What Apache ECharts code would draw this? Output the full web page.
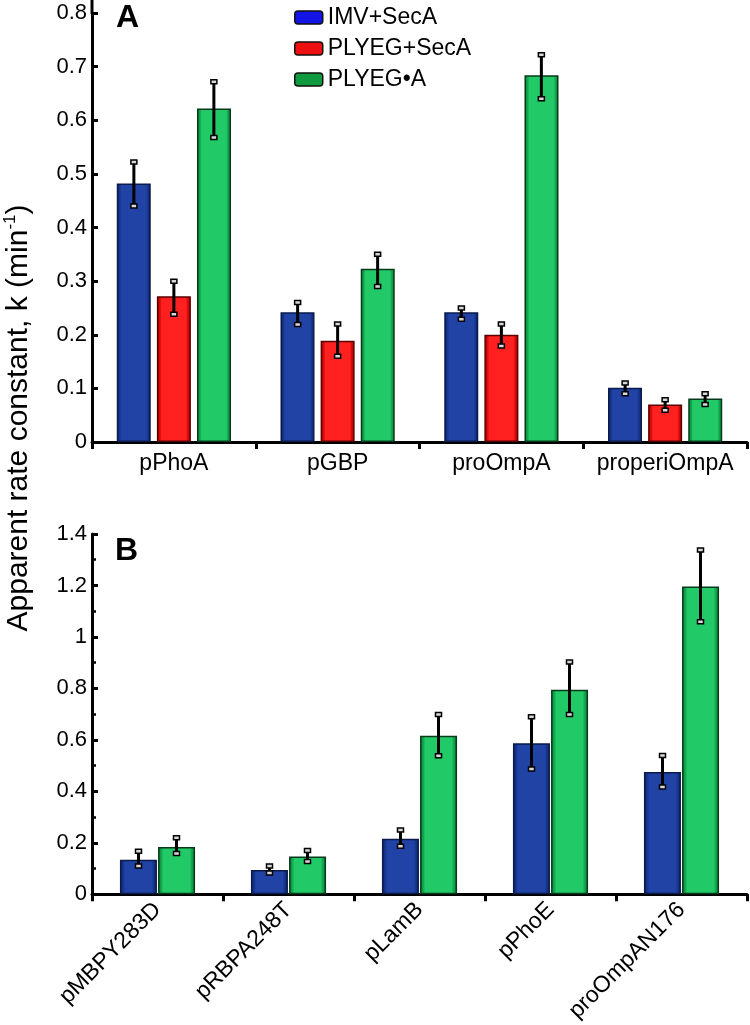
<!DOCTYPE html>
<html>
<head>
<meta charset="utf-8">
<script src="https://cdn.jsdelivr.net/npm/echarts@6/dist/echarts.min.js"></script>
<style>
html,body{margin:0;padding:0;background:#fff;}
#chart{width:750px;height:1025px;}
</style>
</head>
<body>
<div id="chart"></div>
<script>
// ---- Data ----
const seriesNames = ['IMV+SecA', 'PLYEG+SecA', 'PLYEG\u2022A'];

const categoriesA = ['pPhoA', 'pGBP', 'proOmpA', 'properiOmpA'];
const imvA      = [0.482, 0.242, 0.242, 0.101];
const imvALow   = [0.440, 0.219, 0.229, 0.090];
const imvAHigh  = [0.522, 0.260, 0.250, 0.110];
const secA      = [0.272, 0.189, 0.200, 0.070];
const secALow   = [0.238, 0.160, 0.179, 0.059];
const secAHigh  = [0.300, 0.220, 0.220, 0.079];
const plyA      = [0.622, 0.323, 0.684, 0.081];
const plyALow   = [0.568, 0.290, 0.640, 0.070];
const plyAHigh  = [0.672, 0.350, 0.722, 0.090];

const categoriesB = ['pMBPY283D', 'pRBPA248T', 'pLamB', 'pPhoE', 'proOmpAN176'];
const imvB      = [0.134, 0.094, 0.216, 0.587, 0.475];
const imvBLow   = [0.110, 0.083, 0.187, 0.487, 0.417];
const imvBHigh  = [0.167, 0.110, 0.250, 0.690, 0.539];
const plyB      = [0.184, 0.147, 0.616, 0.795, 1.196];
const plyBLow   = [0.158, 0.127, 0.538, 0.699, 1.059];
const plyBHigh  = [0.220, 0.170, 0.699, 0.903, 1.338];

const yTicksA = {min: 0, max: 0.8, interval: 0.1};
const yTicksB = {min: 0, max: 1.4, interval: 0.2};

// ---- Styles ----
const FONT = '"Liberation Sans", Arial, Helvetica, sans-serif';
function grad(edge, band, mid) {
  return new echarts.graphic.LinearGradient(0, 0, 1, 0, [
    {offset: 0, color: edge}, {offset: 0.1, color: band}, {offset: 0.14, color: mid},
    {offset: 0.86, color: mid}, {offset: 0.9, color: band}, {offset: 1, color: edge}
  ]);
}
const fillBlue  = grad('#0d2470', '#18378f', '#2143a6');
const fillRed   = grad('#a80000', '#dd0c0c', '#ff2020');
const fillGreen = grad('#0a8038', '#14aa52', '#22ca67');
const legendColors = ['#1414e6', '#ee1010', '#119a3d'];

function errorSeries(name, cats, low, high, xi, offset) {
  return {
    type: 'custom', name: name, xAxisIndex: xi, yAxisIndex: xi, z: 10,
    silent: true, clip: false,
    data: cats.map((c, i) => [i, low[i], high[i]]),
    encode: {x: 0, y: [1, 2]},
    renderItem: function (params, api) {
      const lo = api.coord([api.value(0), api.value(1)]);
      const hi = api.coord([api.value(0), api.value(2)]);
      const cx = lo[0] + offset;
      const cw = 6, ch = 4;
      return {
        type: 'group',
        children: [
          {type: 'line', shape: {x1: cx, y1: hi[1], x2: cx, y2: lo[1]},
           style: {stroke: '#000', lineWidth: 3}},
          {type: 'rect', shape: {x: cx - cw / 2, y: hi[1] - ch / 2, width: cw, height: ch},
           style: {fill: '#d8d8d8', stroke: '#000', lineWidth: 1.5}},
          {type: 'rect', shape: {x: cx - cw / 2, y: lo[1] - ch / 2, width: cw, height: ch},
           style: {fill: '#d8d8d8', stroke: '#000', lineWidth: 1.5}}
        ]
      };
    }
  };
}

function barSeries(name, data, xi, fill, border, bw, gap) {
  return {
    type: 'bar', name: name, xAxisIndex: xi, yAxisIndex: xi,
    data: data, barWidth: bw, barGap: gap,
    itemStyle: {color: fill, borderColor: border, borderWidth: 1.5}
  };
}

const axisLineStyle = {color: '#000', width: 3};

const option = {
  backgroundColor: '#fff',
  animation: false,
  textStyle: {fontFamily: FONT},
  legend: {
    orient: 'vertical', left: 289, top: 1,
    itemWidth: 28, itemHeight: 13, itemGap: 8,
    textStyle: {fontSize: 23, color: '#000', fontFamily: FONT, lineHeight: 23},
    data: seriesNames.map((n, i) => ({name: n, itemStyle: {color: legendColors[i], borderColor: '#111', borderWidth: 1.5}})),
    selectedMode: false
  },
  grid: [
    {left: 92, right: 3, top: 13, height: 429},
    {left: 92, right: 3, top: 534, height: 363}
  ],
  xAxis: [
    {type: 'category', gridIndex: 0, data: categoriesA,
     axisLine: {lineStyle: axisLineStyle},
     axisTick: {show: true, interval: 0, length: 7, lineStyle: {width: 3, color: '#000'}},
     axisLabel: {fontSize: 23, color: '#000', margin: 10, interval: 0, hideOverlap: false, fontFamily: FONT}},
    {type: 'category', gridIndex: 1, data: categoriesB,
     axisLine: {lineStyle: axisLineStyle},
     axisTick: {show: true, interval: 0, length: 7, lineStyle: {width: 3, color: '#000'}},
     axisLabel: {fontSize: 23, color: '#000', margin: 12, rotate: 45, interval: 0, hideOverlap: false, fontFamily: FONT}}
  ],
  yAxis: [
    {type: 'value', gridIndex: 0, min: yTicksA.min, max: yTicksA.max, interval: yTicksA.interval,
     axisLine: {show: true, lineStyle: axisLineStyle},
     axisTick: {show: true, inside: true, length: 6, lineStyle: {width: 3, color: '#000'}},
     splitLine: {show: false},
     axisLabel: {fontSize: 22, color: '#000', margin: 5, fontFamily: FONT,
       formatter: v => String(Math.round(v * 10) / 10)}},
    {type: 'value', gridIndex: 1, min: yTicksB.min, max: yTicksB.max, interval: yTicksB.interval,
     axisLine: {show: true, lineStyle: axisLineStyle},
     axisTick: {show: true, inside: true, length: 6, lineStyle: {width: 3, color: '#000'}},
     minorTick: {show: true, splitNumber: 2, length: 4, lineStyle: {width: 2.5, color: '#000'}},
     splitLine: {show: false},
     axisLabel: {fontSize: 22, color: '#000', margin: 5, fontFamily: FONT,
       formatter: v => String(Math.round(v * 10) / 10)}}
  ],
  graphic: [
    {type: 'line', shape: {x1: 92, y1: 0, x2: 92, y2: 14}, style: {stroke: '#000', lineWidth: 3}},
    {type: 'text', left: 116, top: 2, style: {text: 'A', font: 'bold 32px ' + FONT, fill: '#000'}},
    {type: 'text', left: 115, top: 535, style: {text: 'B', font: 'bold 32px ' + FONT, fill: '#000'}},
    {type: 'text', x: 19, y: 418, rotation: Math.PI / 2,
     style: {
       text: '{a|Apparent rate constant, k (min}{s|-1}{a|)}',
       align: 'center', verticalAlign: 'middle',
       rich: {
         a: {fontSize: 30, fontFamily: FONT, fill: '#000', lineHeight: 34},
         s: {fontSize: 17, fontFamily: FONT, fill: '#000', verticalAlign: 'top', lineHeight: 34, padding: [0, 0, 14, 0]}
       }
     }}
  ],
  series: [
    barSeries(seriesNames[0], imvA, 0, fillBlue, '#0a1a4a', 34, '18%'),
    barSeries(seriesNames[1], secA, 0, fillRed, '#5a0000', 34, '18%'),
    barSeries(seriesNames[2], plyA, 0, fillGreen, '#063a1a', 34, '18%'),
    errorSeries('errA0', categoriesA, imvALow, imvAHigh, 0, -40),
    errorSeries('errA1', categoriesA, secALow, secAHigh, 0, 0),
    errorSeries('errA2', categoriesA, plyALow, plyAHigh, 0, 40),
    barSeries(seriesNames[0], imvB, 1, fillBlue, '#0a1a4a', 37, '3%'),
    barSeries(seriesNames[2], plyB, 1, fillGreen, '#063a1a', 37, '3%'),
    errorSeries('errB0', categoriesB, imvBLow, imvBHigh, 1, -19),
    errorSeries('errB1', categoriesB, plyBLow, plyBHigh, 1, 19)
  ]
};

const chart = echarts.init(document.getElementById('chart'), null, {renderer: 'canvas'});
chart.setOption(option);
</script>
</body>
</html>
